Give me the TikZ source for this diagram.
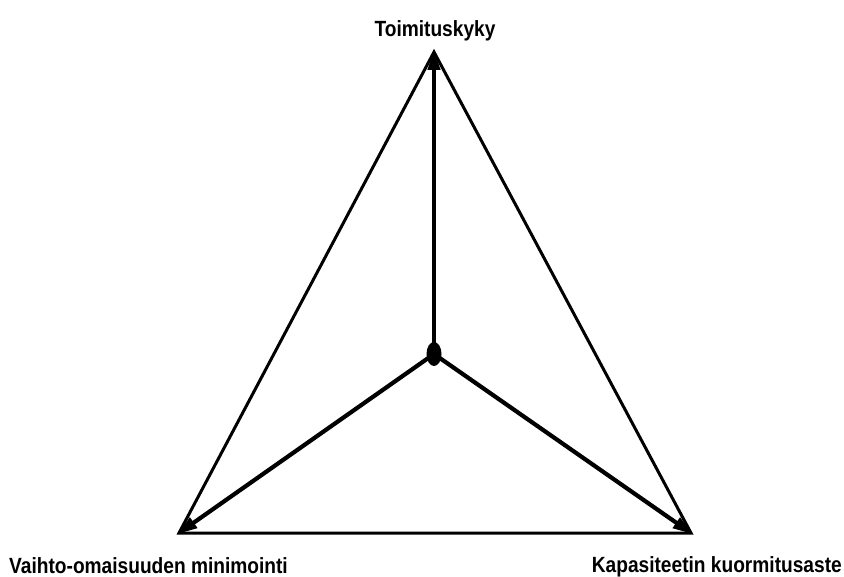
\documentclass[tikz,border=0pt]{standalone}
\usepackage{fontspec}
\setmainfont{Liberation Sans}
\usetikzlibrary{arrows.meta,shapes.geometric}
\newcommand{\narrowtxt}[1]{\scalebox{0.87}[1]{#1}}
\begin{document}
\begin{tikzpicture}[x=1pt,y=-1pt,
  edge/.style={line width=3pt,line join=miter},
  spoke/.style={line width=4.2pt,-{Triangle[length=20pt,width=12pt]},shorten >=-2pt},
  lbl/.style={font=\fontsize{22}{26}\selectfont\bfseries,inner sep=0pt}]
\useasboundingbox (0,0) rectangle (844,577);
\coordinate (T) at (434,52);
\coordinate (L) at (179,533);
\coordinate (R) at (691,533);
\node[ellipse,fill=black,minimum width=15pt,minimum height=24pt,inner sep=0pt] (C) at (434,354) {};
\draw[edge] (T) -- (L) -- (R) -- cycle;
\draw[spoke] (C.center) -- (T);
\draw[spoke] (C.center) -- (L);
\draw[spoke] (C.center) -- (R);
\node[lbl,anchor=base] (tT) at (435,37) {\narrowtxt{Toimituskyky}};
\node[lbl,anchor=base west] (tL) at (9,573) {\narrowtxt{Vaihto-omaisuuden minimointi}};
\node[lbl,anchor=base east] (tR) at (842,572) {\narrowtxt{Kapasiteetin kuormitusaste}};
\end{tikzpicture}
\end{document}
